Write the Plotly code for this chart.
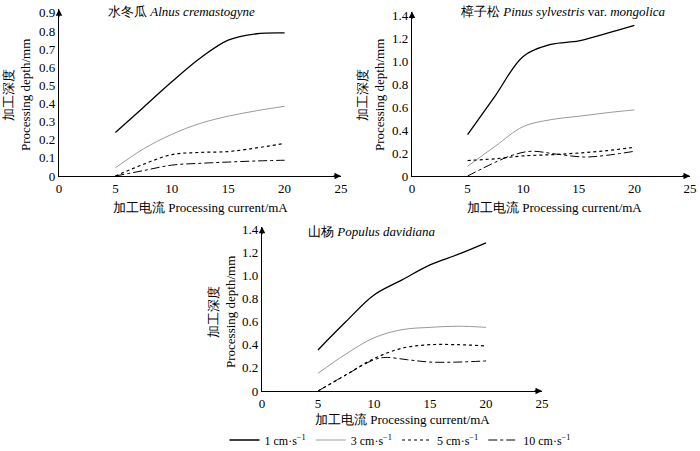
import plotly.graph_objects as go

# corrente de processamento (mA)
corrente = [5, 7.5, 10, 12.5, 15, 17.5, 20]

# 水冬瓜 Alnus cremastogyne
alnus_1 = [0.24, 0.38, 0.52, 0.65, 0.75, 0.785, 0.79]
alnus_3 = [0.045, 0.15, 0.23, 0.29, 0.33, 0.36, 0.385]
alnus_5 = [0, 0.065, 0.118, 0.13, 0.135, 0.155, 0.18]
alnus_10 = [0, 0.03, 0.06, 0.07, 0.077, 0.083, 0.087]

# 樟子松 Pinus sylvestris var. mongolica
pinus_1 = [0.36, 0.70, 1.04, 1.145, 1.175, 1.24, 1.31]
pinus_3 = [0.085, 0.26, 0.43, 0.49, 0.52, 0.55, 0.575]
pinus_5 = [0.135, 0.15, 0.175, 0.185, 0.2, 0.22, 0.25]
pinus_10_x = [5, 7.5, 9, 10.7, 13, 15.5, 17.5, 20]
pinus_10 = [0, 0.12, 0.18, 0.215, 0.19, 0.165, 0.18, 0.215]

# 山杨 Populus davidiana
populus_1 = [0.355, 0.6, 0.83, 0.96, 1.09, 1.18, 1.28]
populus_3 = [0.153, 0.32, 0.46, 0.53, 0.55, 0.56, 0.55]
populus_5 = [0, 0.14, 0.28, 0.37, 0.40, 0.40, 0.39]
populus_10_x = [5, 7.5, 10, 11, 13, 15, 17.5, 20]
populus_10 = [0, 0.14, 0.27, 0.29, 0.27, 0.25, 0.25, 0.26]

nomes = ['1 cm·s<sup>−1</sup>', '3 cm·s<sup>−1</sup>',
         '5 cm·s<sup>−1</sup>', '10 cm·s<sup>−1</sup>']
estilos = [
    dict(color='black', width=1.3, dash='solid'),
    dict(color='#9a9a9a', width=1.0, dash='solid'),
    dict(color='black', width=1.2, dash='dot'),
    dict(color='black', width=1.0, dash='dashdot'),
]

FONTE = 'Liberation Serif'
W, H = 700, 451

fig = go.Figure()

paineis = [
    ('', corrente, [alnus_1, alnus_3, alnus_5, alnus_10], [None, None, None, None]),
    ('2', corrente, [pinus_1, pinus_3, pinus_5, pinus_10], [None, None, None, pinus_10_x]),
    ('3', corrente, [populus_1, populus_3, populus_5, populus_10], [None, None, None, populus_10_x]),
]

for sufixo, xs, series, xs_extra in paineis:
    for i, (ys, xe) in enumerate(zip(series, xs_extra)):
        fig.add_trace(go.Scatter(
            x=xe if xe is not None else xs, y=ys,
            mode='lines', line=dict(shape='spline', smoothing=1.0, **estilos[i]),
            name=nomes[i], showlegend=(sufixo == '3'),
            xaxis='x' + sufixo, yaxis='y' + sufixo, hoverinfo='skip'
        ))


def px_x(p):
    return p / W


def px_y(p):
    return 1 - p / H


eixo_base = dict(showgrid=False, zeroline=False, showline=True, linecolor='black',
                 linewidth=1.3, ticks='', tickfont=dict(family=FONTE, size=13, color='black'),
                 fixedrange=True, automargin=False)

xticks = dict(tickvals=[0, 5, 10, 15, 20, 25], ticktext=['0', '5', '10', '15', '20', '25'])

# domínios (pixels medidos na figura)
fig.update_layout(
    xaxis=dict(eixo_base, domain=[px_x(59), px_x(341)], range=[0, 25], anchor='y', **xticks),
    yaxis=dict(eixo_base, domain=[px_y(176), px_y(9.3)], range=[0, 0.92], anchor='x',
               tickvals=[0, 0.1, 0.2, 0.3, 0.4, 0.5, 0.6, 0.7, 0.8, 0.9],
               ticktext=['0', '0.1', '0.2', '0.3', '0.4', '0.5', '0.6', '0.7', '0.8', '0.9']),
    xaxis2=dict(eixo_base, domain=[px_x(412), px_x(690)], range=[0, 25], anchor='y2', **xticks),
    yaxis2=dict(eixo_base, domain=[px_y(176), px_y(11.6)], range=[0, 1.43], anchor='x2',
                tickvals=[0, 0.2, 0.4, 0.6, 0.8, 1.0, 1.2, 1.4],
                ticktext=['0', '0.2', '0.4', '0.6', '0.8', '1.0', '1.2', '1.4']),
    xaxis3=dict(eixo_base, domain=[px_x(262), px_x(542)], range=[0, 25], anchor='y3', **xticks),
    yaxis3=dict(eixo_base, domain=[px_y(391), px_y(226.7)], range=[0, 1.42], anchor='x3',
                tickvals=[0, 0.2, 0.4, 0.6, 0.8, 1.0, 1.2, 1.4],
                ticktext=['0', '0.2', '0.4', '0.6', '0.8', '1.0', '1.2', '1.4']),
)

anotacoes = []
titulos = [
    ('水冬瓜 <i>Alnus cremastogyne</i>', 181, 11),
    ('樟子松 <i>Pinus sylvestris</i> var. <i>mongolica</i>', 563, 11),
    ('山杨 <i>Populus davidiana</i>', 372, 231),
]
for texto, cx, cy in titulos:
    anotacoes.append(dict(text=texto, x=px_x(cx), y=px_y(cy), xref='paper', yref='paper',
                          xanchor='center', yanchor='middle', showarrow=False,
                          font=dict(family=FONTE, size=13, color='black')))

rotulos_x = [(200, 207), (554, 207), (402, 419)]
for cx, cy in rotulos_x:
    anotacoes.append(dict(text='加工电流 Processing current/mA', x=px_x(cx), y=px_y(cy),
                          xref='paper', yref='paper', xanchor='center', yanchor='middle',
                          showarrow=False, font=dict(family=FONTE, size=13, color='black')))

rotulos_y = [(17, 95), (371, 95), (222, 312)]
for cx, cy in rotulos_y:
    anotacoes.append(dict(text='加工深度<br>Processing depth/mm', x=px_x(cx), y=px_y(cy),
                          xref='paper', yref='paper', xanchor='center', yanchor='middle',
                          showarrow=False, textangle=-90,
                          font=dict(family=FONTE, size=13, color='black')))

# setas nos eixos
topos = [('', 0.92), ('2', 1.43), ('3', 1.42)]
for sufixo, topo in topos:
    anotacoes.append(dict(x=25, y=0, xref='x' + sufixo, yref='y' + sufixo, ax=-9, ay=0,
                          showarrow=True, arrowhead=2, arrowsize=1, arrowwidth=1.3,
                          arrowcolor='black', text=''))
    anotacoes.append(dict(x=0, y=topo, xref='x' + sufixo, yref='y' + sufixo, ax=0, ay=9,
                          showarrow=True, arrowhead=2, arrowsize=1, arrowwidth=1.3,
                          arrowcolor='black', text=''))

fig.update_layout(
    width=W, height=H,
    margin=dict(l=0, r=0, t=0, b=0, autoexpand=False),
    paper_bgcolor='white', plot_bgcolor='white',
    annotations=anotacoes,
    showlegend=True,
    legend=dict(orientation='h', x=px_x(400), xanchor='center', y=px_y(440), yanchor='middle',
                font=dict(family=FONTE, size=12, color='black'), itemwidth=30,
                tracegroupgap=0, bgcolor='rgba(0,0,0,0)'),
)

# tira a margem padrão do <body> para a figura ocupar a janela toda
fig.write_html("out.html", config={'displayModeBar': False},
               post_script="document.body.style.margin='0';")
